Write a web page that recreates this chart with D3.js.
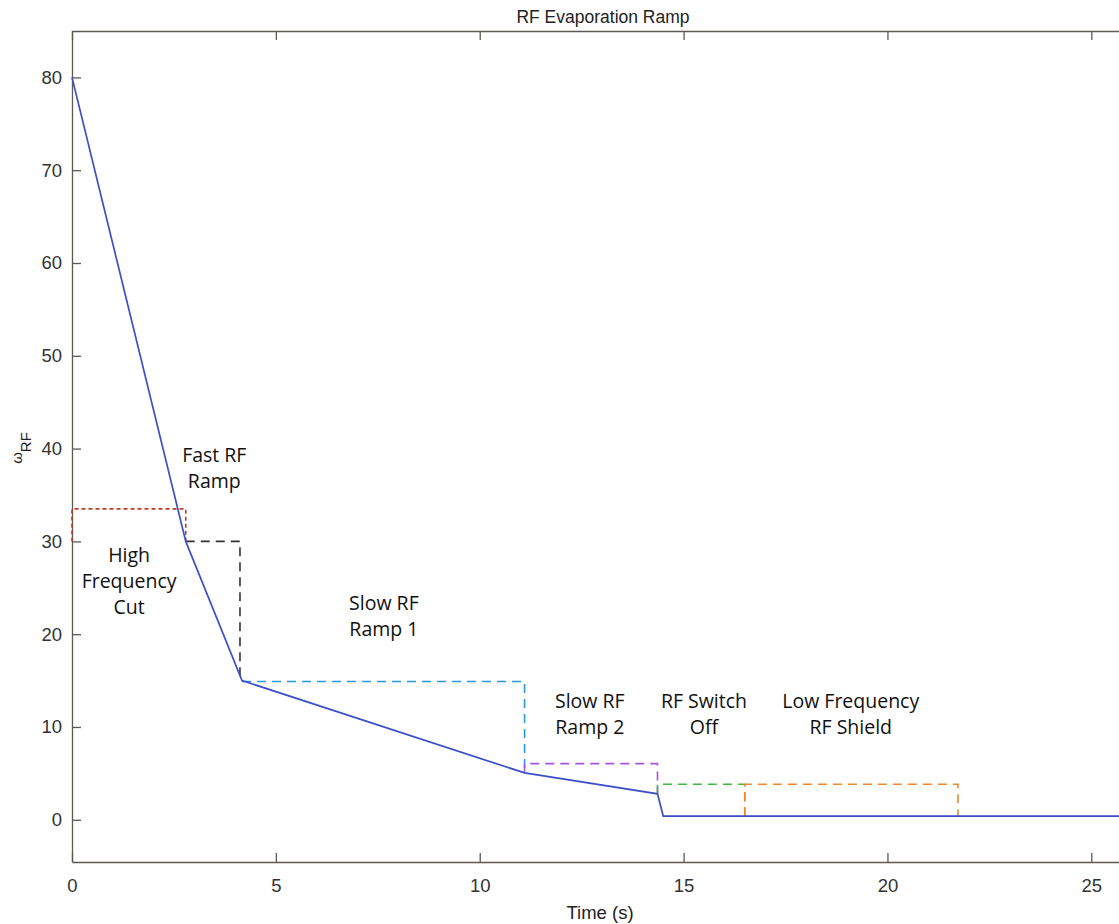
<!DOCTYPE html>
<meta charset="utf-8">
<style>
body { margin: 0; background: #fff; }
.axis text { font-family: "Liberation Sans", Arial, sans-serif; font-size: 18.5px; fill: #333; }
.axis path, .axis line { stroke: #5e5953; stroke-width: 1.3px; }
.stage { font-family: "Open Sans", "Noto Sans", sans-serif; font-size: 19.5px; fill: #111; }
.ramp { fill: none; stroke: #3c4fc9; stroke-width: 1.7px; }
.box { fill: none; stroke-width: 1.6px; }
</style>
<body>
<svg id="chart" width="1119" height="924"></svg>
<script src="https://d3js.org/d3.v7.min.js"></script>
<script>

// ramp (time in s, omega_RF)
var rampTime = [0, 2.79, 4.17, 11.1, 14.36, 14.5, 25.9];
var rampOmega = [80, 30, 15, 5.05, 2.8, 0.4, 0.4];

// dashed stage outlines: points of each open path
var stageNames = ["High Frequency Cut", "Fast RF Ramp", "Slow RF Ramp 1", "Slow RF Ramp 2", "RF Switch Off", "Low Frequency RF Shield"];
var stageColors = ["#c23a24", "#333333", "#2b97e0", "#a455d9", "#3fb844", "#ec8a2c"];
var stageDash = ["4,3", "9,6", "9,6", "9,6", "9,6", "9,6"];
var stageX = [[0, 0, 2.79, 2.79], [2.79, 4.12, 4.12], [4.17, 11.1, 11.1], [11.1, 11.1, 14.36, 14.36], [14.36, 14.36, 16.5, 16.5], [16.5, 16.5, 21.73, 21.73]];
var stageY = [[30, 33.5, 33.5, 30], [30, 30, 15], [14.9, 14.9, 5.05], [5.05, 6.05, 6.05, 2.8], [2.8, 3.83, 3.83, 0.4], [0.4, 3.83, 3.83, 0.4]];

// stage label anchors (centre of the text block, first line)
var labelLines = [["High", "Frequency", "Cut"], ["Fast RF", "Ramp"], ["Slow RF", "Ramp 1"], ["Slow RF", "Ramp 2"], ["RF Switch", "Off"], ["Low Frequency", "RF Shield"]];
var labelX = [1.4, 3.49, 7.65, 12.7, 15.5, 19.1];
var labelY = [27.8, 38.6, 22.6, 12, 12, 12];

var xTicks = [0, 5, 10, 15, 20, 25];
var yTicks = [0, 10, 20, 30, 40, 50, 60, 70, 80];

var margin = {top: 31, right: -9, bottom: 62, left: 72},
    width = 1119 - margin.left - margin.right,
    height = 924 - margin.top - margin.bottom;

var x = d3.scaleLinear().domain([0, 25.9]).range([0, width]);
var y = d3.scaleLinear().domain([-4.55, 85]).range([height, 0]);

var svg = d3.select("#chart")
  .append("g")
    .attr("transform", "translate(" + margin.left + "," + margin.top + ")");

// axes (box style, ticks inward)
svg.append("g").attr("class", "axis")
    .attr("transform", "translate(0," + height + ")")
    .call(d3.axisBottom(x).tickValues(xTicks).tickSizeInner(-9).tickSizeOuter(0).tickPadding(17));
svg.append("g").attr("class", "axis")
    .call(d3.axisTop(x).tickValues(xTicks).tickSizeInner(-9).tickSizeOuter(0).tickFormat(""));
svg.append("g").attr("class", "axis")
    .call(d3.axisLeft(y).tickValues(yTicks).tickSizeInner(-9).tickSizeOuter(0).tickPadding(10));
svg.append("g").attr("class", "axis")
    .attr("transform", "translate(" + width + ",0)")
    .call(d3.axisRight(y).tickValues(yTicks).tickSizeInner(-9).tickSizeOuter(0).tickFormat(""));

// dashed stage outlines
var line = d3.line()
    .x(function(d) { return x(d[0]); })
    .y(function(d) { return y(d[1]); });

stageNames.forEach(function(name, i) {
  var pts = stageX[i].map(function(v, j) { return [v, stageY[i][j]]; });
  svg.append("path")
      .datum(pts)
      .attr("class", "box")
      .style("stroke", stageColors[i])
      .style("stroke-dasharray", stageDash[i])
      .attr("d", line);
});

// ramp line
var rampPts = rampTime.map(function(t, i) { return [t, rampOmega[i]]; });
svg.append("path")
    .datum(rampPts)
    .attr("class", "ramp")
    .attr("d", line);

// stage labels
labelLines.forEach(function(lines, i) {
  var t = svg.append("text")
      .attr("class", "stage")
      .attr("text-anchor", "middle")
      .attr("x", x(labelX[i]))
      .attr("y", y(labelY[i]));
  lines.forEach(function(s, j) {
    t.append("tspan")
        .attr("x", x(labelX[i]))
        .attr("dy", j == 0 ? 0 : 26)
        .text(s);
  });
});

// title and axis labels
d3.select("#chart").append("text")
    .attr("x", 603).attr("y", 23)
    .attr("text-anchor", "middle")
    .style("font-family", "Liberation Sans, Arial, sans-serif")
    .style("font-size", "17.5px").style("fill", "#222")
    .text("RF Evaporation Ramp");

d3.select("#chart").append("text")
    .attr("x", 600).attr("y", 919)
    .attr("text-anchor", "middle")
    .style("font-family", "Liberation Sans, Arial, sans-serif")
    .style("font-size", "18.5px").style("fill", "#222")
    .text("Time (s)");

var yl = d3.select("#chart").append("text")
    .attr("transform", "translate(22,448) rotate(-90)")
    .attr("text-anchor", "middle")
    .style("font-family", "Liberation Sans, Arial, sans-serif")
    .style("font-size", "15px").style("fill", "#222");
yl.append("tspan").text("ω");
yl.append("tspan").attr("dy", 9).style("font-size", "15px").text("RF");

</script>
</body>
